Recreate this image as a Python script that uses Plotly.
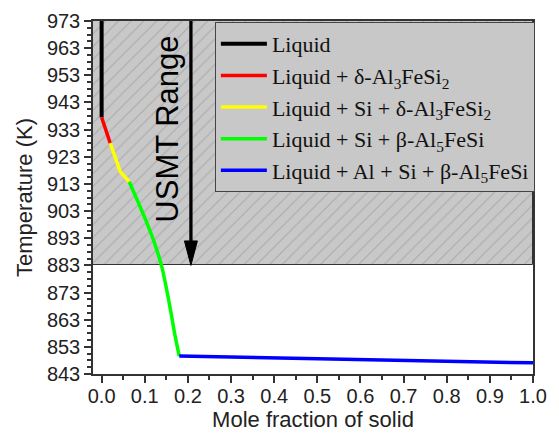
import plotly.graph_objects as go

# Solidification path: mole fraction of solid vs temperature, by phase region
liquid_x = [0.0, 0.0]
liquid_T = [973.0, 937.5]

delta_x = [0.0, 0.020]
delta_T = [937.5, 928.0]

si_delta_x = [0.020, 0.043, 0.064]
si_delta_T = [928.0, 917.5, 913.8]

si_beta_x = [0.064, 0.084, 0.104, 0.123, 0.139, 0.151, 0.161, 0.170, 0.180]
si_beta_T = [913.8, 906.5, 899.0, 891.0, 882.8, 873.9, 865.4, 857.3, 849.6]

eutectic_x = [0.180, 1.0]
eutectic_T = [849.6, 847.1]

series_names = [
    "Liquid",
    "Liquid + δ-Al<sub>3</sub>FeSi<sub>2</sub>",
    "Liquid + Si + δ-Al<sub>3</sub>FeSi<sub>2</sub>",
    "Liquid + Si + β-Al<sub>5</sub>FeSi",
    "Liquid + Al + Si + β-Al<sub>5</sub>FeSi",
]
series_colors = ["#000000", "#ff0000", "#ffff00", "#00ff00", "#0000ff"]

# Axis limits and ticks
x_min, x_max = -0.02, 1.0
t_min, t_max = 843, 973
y_ticks = list(range(843, 974, 10))
x_ticks = [round(0.1 * i, 1) for i in range(11)]
x_tick_text = [f"{v:.1f}" for v in x_ticks]

# Semi-solid metal temperature window
usmt_low = 883
arrow_x = 0.207
head_len = 9.0      # K
head_half = 0.015   # mole fraction

fig = go.Figure()

# Hatched USMT band
fig.add_trace(go.Bar(
    x=[(x_min + x_max) / 2], y=[t_max - usmt_low], base=[usmt_low],
    width=[x_max - x_min],
    marker=dict(
        color="#c8c8c8",
        line=dict(color="#333333", width=1),
        pattern=dict(shape="/", fgcolor="#8c8c8c", bgcolor="#c8c8c8",
                     size=9, solidity=0.12),
    ),
    showlegend=False, hoverinfo="skip",
))

curves = [
    (liquid_x, liquid_T, 4, "linear"),
    (delta_x, delta_T, 3.5, "linear"),
    (si_delta_x, si_delta_T, 3.5, "linear"),
    (si_beta_x, si_beta_T, 3.5, "spline"),
    (eutectic_x, eutectic_T, 3.5, "linear"),
]
for i, ((xs, ts, w, shp), name, col) in enumerate(zip(curves, series_names, series_colors)):
    fig.add_trace(go.Scatter(
        x=xs, y=ts, mode="lines", name=name, legendgroup=f"g{i}",
        line=dict(color=col, width=w, shape=shp, smoothing=0.8),
    ))

# Arrow marking the USMT range
fig.add_shape(type="line", x0=arrow_x, x1=arrow_x, y0=t_max, y1=usmt_low + head_len,
              line=dict(color="black", width=3.3), layer="above")
fig.add_shape(
    type="path",
    path=(f"M {arrow_x - head_half},{usmt_low + head_len} "
          f"L {arrow_x + head_half},{usmt_low + head_len} "
          f"L {arrow_x},{usmt_low} Z"),
    fillcolor="black", line=dict(color="black", width=1), layer="above",
)
fig.add_annotation(
    x=0.154, y=933, text="USMT Range", showarrow=False, textangle=-90,
    font=dict(family="Liberation Sans, Arial", size=31, color="black"),
)

axis_common = dict(
    showline=True, linecolor="#333333", linewidth=1.5, mirror=True,
    ticks="outside", ticklen=7, tickwidth=1.5, tickcolor="#333333",
    showgrid=False, zeroline=False, automargin=False,
    tickfont=dict(family="Liberation Sans, Arial", size=20, color="#222222"),
)

fig.update_xaxes(
    range=[x_min, x_max], tickvals=x_ticks, ticktext=x_tick_text,
    ticklabelstandoff=-4,
    minor=dict(dtick=0.05, tick0=0, ticks="outside", ticklen=4,
               tickwidth=1.5, tickcolor="#333333"),
    title=dict(text="Mole fraction of solid", standoff=6,
               font=dict(family="Liberation Sans, Arial", size=22, color="#222222")),
    **axis_common,
)
fig.update_yaxes(
    range=[t_min, t_max], tickvals=y_ticks,
    minor=dict(dtick=2.5, tick0=843, ticks="outside", ticklen=4,
               tickwidth=1.5, tickcolor="#333333"),
    title=dict(text="Temperature (K)", standoff=8,
               font=dict(family="Liberation Sans, Arial", size=22, color="#222222")),
    **axis_common,
)

fig.update_layout(
    width=559, height=433,
    margin=dict(l=93, r=26, t=21, b=59),
    plot_bgcolor="white", paper_bgcolor="white",
    bargap=0,
    legend=dict(
        x=0.277, y=0.997, xanchor="left", yanchor="top",
        bgcolor="#c8c8c8", bordercolor="#444444", borderwidth=1,
        font=dict(family="Liberation Serif, Times New Roman", size=22, color="#111111"),
        itemwidth=46, traceorder="grouped", tracegroupgap=0,
    ),
)

fig.write_html("out.html")
